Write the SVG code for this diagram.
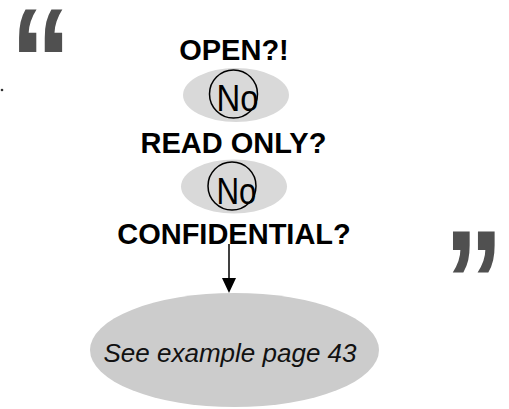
<svg xmlns="http://www.w3.org/2000/svg" width="509" height="409" viewBox="0 0 509 409">
  <style>
    .q { font-family: "Liberation Sans", Arial, sans-serif; font-weight: bold; fill: #505050; }
    .h { font-family: "Liberation Sans", Arial, sans-serif; font-weight: bold; font-size: 29px; fill: #000; text-anchor: middle; }
    .no { font-family: "Liberation Sans", Arial, sans-serif; font-size: 37px; fill: #000; }
    .pill { fill: #d9d9d9; }
    .ring { fill: none; stroke: #000; stroke-width: 1.5; }
    .big { fill: #cccccc; }
    .it { font-family: "Liberation Sans", Arial, sans-serif; font-style: italic; font-size: 26px; fill: #111; text-anchor: middle; }
  </style>
  <rect width="509" height="409" fill="#fff"/>

  <g id="quote-open">
    <text class="q" x="10" y="113" font-size="150" transform="translate(10,0) scale(0.82,1) translate(-10,0)">“</text>
  </g>
  <g id="dot"><circle cx="2" cy="90" r="1.3" fill="#333"/></g>
  <g id="quote-close">
    <text class="q" x="444" y="331" font-size="145" transform="translate(444,0) scale(0.82,1) translate(-444,0)">”</text>
  </g>

  <g id="open">
    <text class="h" x="234" y="59.5">OPEN?!</text>
  </g>
  <g id="no1">
    <ellipse class="pill" cx="236" cy="95" rx="53" ry="27"/>
    <circle class="ring" cx="233.5" cy="94" r="24"/>
    <text class="no" x="216.5" y="110.5" textLength="42" lengthAdjust="spacingAndGlyphs">No</text>
  </g>
  <g id="readonly">
    <text class="h" x="233.5" y="152.5">READ ONLY?</text>
  </g>
  <g id="no2">
    <ellipse class="pill" cx="234" cy="186.5" rx="53" ry="27"/>
    <circle class="ring" cx="232" cy="186" r="24"/>
    <text class="no" x="216.5" y="204" textLength="40" lengthAdjust="spacingAndGlyphs">No</text>
  </g>
  <g id="confidential">
    <text class="h" x="234" y="243.5">CONFIDENTIAL?</text>
  </g>
  <g id="example">
    <ellipse class="big" cx="234.5" cy="350" rx="144.5" ry="57"/>
    <text class="it" x="230" y="361.5">See example page 43</text>
  </g>

  <g id="connectors">
    <line x1="229" y1="244" x2="229" y2="279" stroke="#000" stroke-width="1.5"/>
    <path d="M222,278 L236,278 L229,293 Z" fill="#000"/>
  </g>
</svg>
